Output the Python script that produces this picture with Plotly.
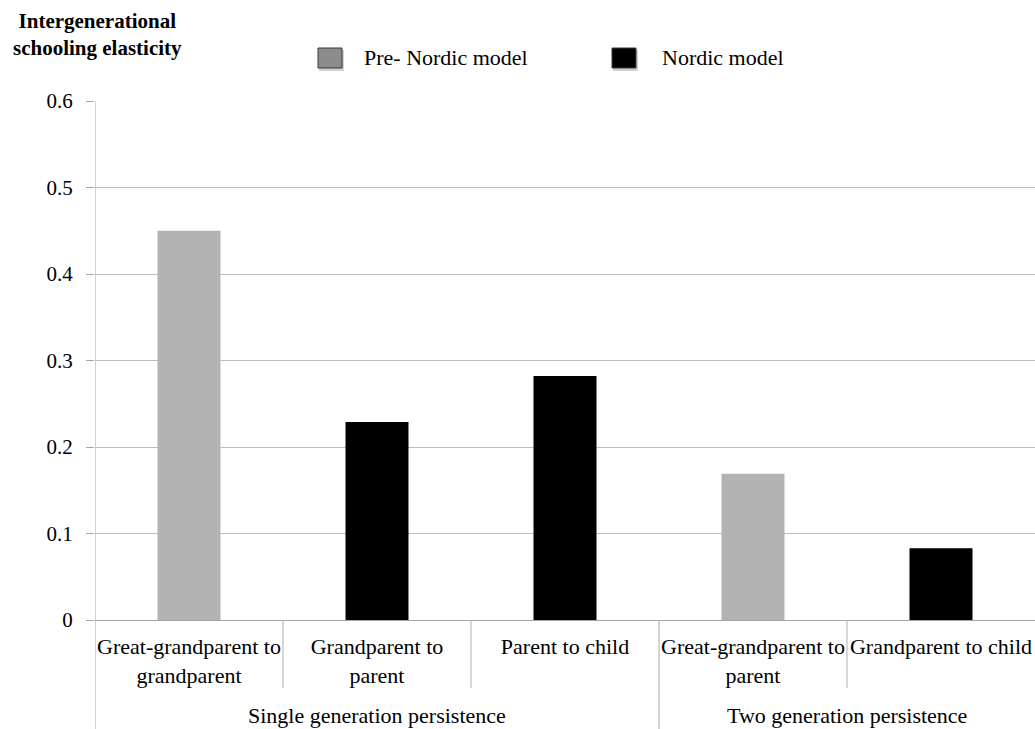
import plotly.graph_objects as go

# Categories, grouping and elasticity values
categories = [
    "Great-grandparent to grandparent",
    "Grandparent to parent",
    "Parent to child",
    "Great-grandparent to parent",
    "Grandparent to child",
]
tick_labels = [
    "Great-grandparent to<br>grandparent",
    "Grandparent to<br>parent",
    "Parent to child",
    "Great-grandparent to<br>parent",
    "Grandparent to child",
]
groups = [
    "Single generation persistence",
    "Single generation persistence",
    "Single generation persistence",
    "Two generation persistence",
    "Two generation persistence",
]
period = ["Pre- Nordic model", "Nordic model", "Nordic model",
          "Pre- Nordic model", "Nordic model"]
elasticity = [0.45, 0.229, 0.282, 0.169, 0.083]

series_names = ["Pre- Nordic model", "Nordic model"]
bar_colors = {"Pre- Nordic model": "#b3b3b3", "Nordic model": "#000000"}
legend_colors = {"Pre- Nordic model": "#8c8c8c", "Nordic model": "#000000"}

W, H = 1035, 729
ML, MR, MT, MB = 95, 0, 101, 109
PW, PH = W - ML - MR, H - MT - MB
FONT = "Liberation Serif"


def px(x):
    """Pixel column -> paper x."""
    return (x - ML) / PW


def py(y):
    """Pixel row -> paper y."""
    return (H - MB - y) / PH


fig = go.Figure()
for name in series_names:
    xs = [c for c, p in zip(categories, period) if p == name]
    ys = [v for v, p in zip(elasticity, period) if p == name]
    fig.add_trace(go.Bar(
        x=xs, y=ys, name=name, width=0.335,
        marker=dict(color=bar_colors[name], line=dict(width=0)),
        showlegend=False,
    ))

shapes = []
annotations = []

# Category separators below the axis; group boundaries run to the bottom edge
group_starts = [i for i in range(len(groups)) if i == 0 or groups[i] != groups[i - 1]]
for i in range(1, len(categories)):
    if i in group_starts:
        continue
    shapes.append(dict(type="line", xref="x", yref="paper",
                       x0=i - 0.5, x1=i - 0.5, y0=0, y1=py(688),
                       line=dict(color="#b0b0b0", width=1)))
for i in group_starts:
    y_top = 1 if i == 0 else 0
    shapes.append(dict(type="line", xref="x", yref="paper",
                       x0=i - 0.5, x1=i - 0.5, y0=y_top, y1=py(H),
                       line=dict(color="#a6a6a6", width=1)))

# Group labels centred under their categories
for gi, start in enumerate(group_starts):
    end = group_starts[gi + 1] - 1 if gi + 1 < len(group_starts) else len(groups) - 1
    annotations.append(dict(text=groups[start], xref="x", yref="paper",
                            x=(start + end) / 2, y=py(715),
                            xanchor="center", yanchor="middle", showarrow=False,
                            font=dict(family=FONT, size=22, color="#000000")))

# Legend drawn as swatches with labels above the plot
legend_pos = {"Pre- Nordic model": (318, 362), "Nordic model": (612, 660)}
for name in series_names:
    sx, tx = legend_pos[name]
    shapes.append(dict(type="rect", xref="paper", yref="paper",
                       x0=px(sx + 1), x1=px(sx + 26), y0=py(71), y1=py(50),
                       fillcolor="rgba(0,0,0,0.18)", line=dict(width=0)))
    shapes.append(dict(type="rect", xref="paper", yref="paper",
                       x0=px(sx), x1=px(sx + 24), y0=py(68), y1=py(48),
                       fillcolor=legend_colors[name],
                       line=dict(color="#3a3a3a", width=1)))
    annotations.append(dict(text=name, xref="paper", yref="paper",
                            x=px(tx), y=py(58), xanchor="left", yanchor="middle",
                            showarrow=False,
                            font=dict(family=FONT, size=22, color="#000000")))

# Axis title in the top-left corner
annotations.append(dict(text="<b>Intergenerational<br>schooling elasticity</b>",
                        xref="paper", yref="paper", x=px(97), y=py(35),
                        xanchor="center", yanchor="middle", align="center",
                        showarrow=False,
                        font=dict(family=FONT, size=21, color="#000000")))

fig.update_layout(
    width=W, height=H,
    margin=dict(l=ML, r=MR, t=MT, b=MB, pad=0),
    paper_bgcolor="#ffffff", plot_bgcolor="#ffffff",
    barmode="overlay",
    font=dict(family=FONT, size=22, color="#000000"),
    shapes=shapes, annotations=annotations,
    xaxis=dict(
        type="category", categoryorder="array", categoryarray=categories,
        tickvals=categories, ticktext=tick_labels,
        showgrid=False, showline=False, zeroline=False,
        ticks="", ticklabelstandoff=11,
        tickfont=dict(family=FONT, size=22, color="#000000"),
        range=[-0.5, len(categories) - 0.5],
    ),
    yaxis=dict(
        range=[0, 0.6], dtick=0.1, tick0=0,
        showgrid=True, gridcolor="#bcbcbc", gridwidth=1,
        zeroline=True, zerolinecolor="#a6a6a6", zerolinewidth=1,
        showline=False,
        ticks="outside", ticklen=8, tickcolor="#a6a6a6",
        ticklabelstandoff=9,
        tickfont=dict(family=FONT, size=21, color="#000000"),
    ),
)

fig.write_html("out.html")
